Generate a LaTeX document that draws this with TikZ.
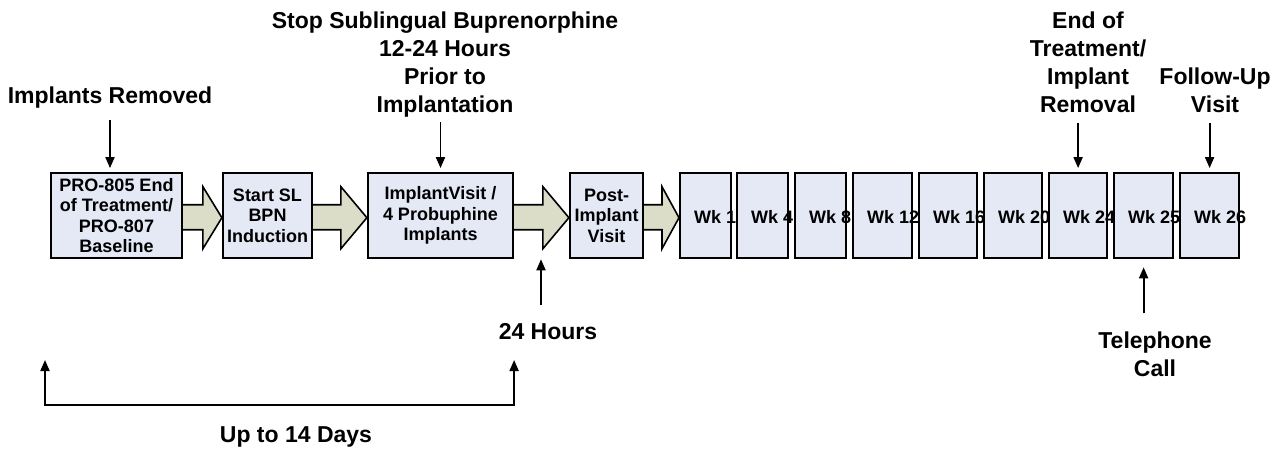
\documentclass[tikz,border=0pt]{standalone}
\usepackage{fontspec}
\setmainfont{Liberation Sans}
\usetikzlibrary{arrows.meta,calc}
\definecolor{boxfill}{RGB}{228,233,245}
\definecolor{arrowfill}{RGB}{220,221,200}

\begin{document}
\begin{tikzpicture}[x=1pt,y=-1pt,
  box/.style={draw,line width=2.2pt,fill=boxfill,minimum height=85pt,inner sep=0pt,align=center,font=\fontsize{18}{20.5}\selectfont\bfseries},
  wkbox/.style={draw,line width=2.2pt,fill=boxfill,minimum height=85pt,inner sep=0pt},
  wktext/.style={inner sep=0pt,anchor=west,font=\fontsize{18}{20.5}\selectfont\bfseries},
  note/.style={inner sep=0pt,align=center,anchor=north,font=\fontsize{23}{28}\selectfont\bfseries},
  pointer/.style={line width=1.8pt,-{Triangle[length=11pt,width=9pt]}},
  fatarrow/.style={draw,line width=1.6pt,fill=arrowfill,line join=miter}]
  \useasboundingbox (0,0) rectangle (1287,448);
  \node[box,minimum width=131pt] (b1) at (116.5,215.7) {PRO-805 End\\of Treatment/\\PRO-807\\Baseline};
  \node[box,minimum width=89pt] (b2) at (267.5,215.7) {Start SL\\BPN\\Induction};
  \node[box,minimum width=145pt] (b3) at (440.5,215.7) {ImplantVisit /\\4 Probuphine\\Implants};
  \node[box,minimum width=73pt] (b4) at (606.5,215.7) {Post-\\Implant\\Visit};
  \foreach \n/\l/\r in {1/679/730,4/736/787,8/794/845,12/852/911,16/918/976,20/983/1041,24/1048/1106,25/1113/1172,26/1179/1238} {
    \pgfmathsetmacro\w{\r-\l}
    \node[wkbox,anchor=west,minimum width=\w pt] (wk\n) at (\l,215.7) {};
  }
  \foreach \n in {1,4,8,12,16,20,24,25,26}
    \node[wktext] (wkt\n) at ([xshift=15pt,yshift=-1pt]wk\n.west) {Wk \n};
  \foreach \a/\b/\h in {b1/b2/19pt,b2/b3/26pt,b3/b4/26pt,b4/wk1/17pt}
    \draw[fatarrow] let \p1=(\a.east),\p2=(\b.west) in
      (\x1,\y1+11pt) -- (\x2-\h,\y1+11pt) -- (\x2-\h,\y1+29pt) -- (\x2,\y1-2pt) -- (\x2-\h,\y1-33pt) -- (\x2-\h,\y1-14pt) -- (\x1,\y1-14pt);
  \node[note] (removed) at (110,86.4) {Implants Removed};
  \node[note] (stop) at (445,11.4) {Stop Sublingual Buprenorphine\\12-24 Hours\\Prior to\\Implantation};
  \node[note] (eot) at (1088,11.4) {End of\\Treatment/\\Implant\\Removal};
  \node[note] (fu) at (1215,68.1) {Follow-Up\\Visit};
  \node[note] (hours) at (548,323.4) {24 Hours};
  \node[note] (phone) at (1155,331.4) {Telephone\\Call};
  \node[note] (days) at (296,426) {Up to 14 Days};
  \draw[pointer] ([yshift=-12pt]removed.south) -- ([yshift=4pt]removed.south |- b1.north);
  \draw[pointer] ([yshift=-5pt]stop.south -| b3.north) -- ([yshift=4pt]b3.north);
  \draw[pointer] ([yshift=-10pt]eot.south -| wk24.north) -- ([yshift=4pt]wk24.north);
  \draw[pointer] ([yshift=-10pt]fu.south -| wk26.north) -- ([yshift=4pt]wk26.north);
  \draw[pointer] ([xshift=-7pt,yshift=18pt]hours.north) -- ([xshift=-7pt]hours.north |- b3.south);
  \draw[pointer] ([yshift=18pt]phone.north -| wk25.south) -- ([yshift=-8pt]wk25.south);
  \coordinate (spanl) at (45,360);
  \coordinate (spanr) at (b3.east |- spanl);
  \draw[line width=1.8pt,{Triangle[length=11pt,width=9pt]}-{Triangle[length=11pt,width=9pt]}] (spanl) -- ++(0,45) -| (spanr);
\end{tikzpicture}
\end{document}
